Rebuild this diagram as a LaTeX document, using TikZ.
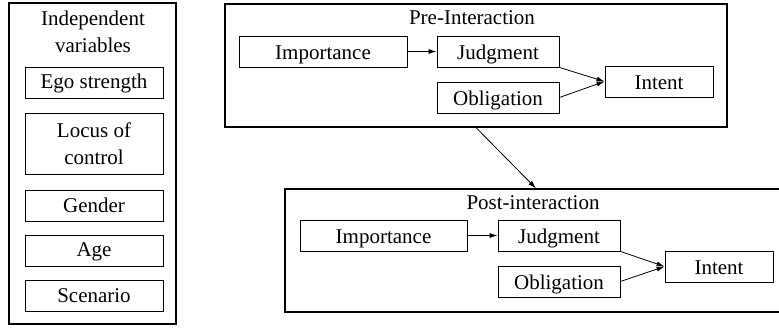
\documentclass[tikz,border=0pt]{standalone}
\usepackage{fontspec}
\setmainfont{Liberation Serif}
\usetikzlibrary{arrows.meta}

\begin{document}
\begin{tikzpicture}[x=1pt,y=-1pt,
    every node/.style={font=\fontsize{21}{27}\selectfont},
    plainbox/.style={draw,line width=0.9pt,inner sep=0pt},
    varbox/.style={plainbox,minimum width=138pt,minimum height=31pt,text height=16pt,text depth=4pt},
    factor/.style={plainbox,minimum height=31pt,text height=16pt,text depth=0pt},
    stagebox/.style={draw,line width=1.2pt,minimum width=502pt,minimum height=123pt,inner sep=0pt},
    link/.style={-{Latex[length=8pt,width=5pt]},line width=0.8pt}]
    \useasboundingbox (0,0) rectangle (779,327);
    % independent variables
    \node[draw,line width=1.2pt,minimum width=167pt,minimum height=321pt,inner sep=0pt] (ivbox) at (92.5,163.5) {};
    \node[align=center] (ivtitle) at (93,32) {Independent\\variables};
    \node[varbox] (ego) at (94,82.5) {Ego strength};
    \node[plainbox,minimum width=138pt,minimum height=61pt,align=center] (locus) at (94,143.5) {Locus of\\control};
    \node[varbox] (gender) at (94,206) {Gender};
    \node[varbox] (age) at (94,250.5) {Age};
    \node[varbox] (scenario) at (94,296) {Scenario};
    % pre-interaction
    \node[stagebox] (pre) at (476,65.5) {};
    \node[anchor=base] (pretitle) at (472,24) {Pre-Interaction};
    \node[factor,minimum width=168pt] (preimp) at (323,51.5) {Importance};
    \node[factor,minimum width=122pt] (prejud) at (498,51.5) {Judgment};
    \node[factor,minimum width=122pt] (preobl) at (498,97.5) {Obligation};
    \node[factor,minimum width=108pt] (preint) at (659,81.5) {Intent};
    \draw[link] (preimp.east) -- (prejud.west);
    \draw[link] (prejud.south east) -- (preint.west);
    \draw[link] (preobl.east) -- (preint.west);
    % post-interaction
    \node[stagebox] (post) at (536,250.5) {};
    \node[anchor=base] (posttitle) at (533,209) {Post-interaction};
    \node[factor,minimum width=167pt] (postimp) at (383.5,235.5) {Importance};
    \node[factor,minimum width=122pt] (postjud) at (559,235.5) {Judgment};
    \node[factor,minimum width=122pt] (postobl) at (559,281.5) {Obligation};
    \node[factor,minimum width=108pt] (postint) at (719,266.5) {Intent};
    \draw[link] (postimp.east) -- (postjud.west);
    \draw[link] (postjud.south east) -- (postint.west);
    \draw[link] (postobl.east) -- (postint.west);
    \draw[link] (pre.south) -- (post.north);
\end{tikzpicture}
\end{document}
